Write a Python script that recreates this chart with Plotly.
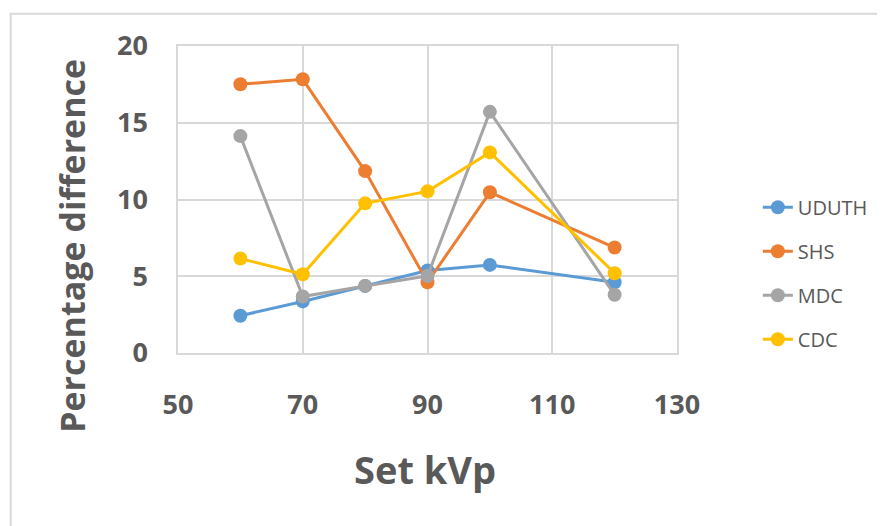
import plotly.graph_objects as go

kvp = [60, 70, 80, 90, 100, 120]
uduth = [2.43, 3.36, 4.37, 5.38, 5.74, 4.61]
shs = [17.51, 17.83, 11.85, 4.61, 10.47, 6.87]
mdc = [14.13, 3.68, 4.37, 5.02, 15.71, 3.79]
cdc = [6.15, 5.13, 9.75, 10.53, 13.07, 5.20]

series_names = ["UDUTH", "SHS", "MDC", "CDC"]
series_values = [uduth, shs, mdc, cdc]
colors = ["#5B9BD5", "#ED7D31", "#A5A5A5", "#FFC000"]

x_ticks = [50, 70, 90, 110, 130]
y_ticks = [0, 5, 10, 15, 20]

fig = go.Figure()
for name, vals, col in zip(series_names, series_values, colors):
    fig.add_trace(go.Scatter(
        x=kvp, y=vals, name=name, mode="lines+markers",
        line=dict(color=col, width=3),
        marker=dict(color=col, size=14),
        legendgroup=name,
    ))

TXT = "#595959"
GRID = "#D9D9D9"

# page body has an 8px margin; plot area target: x 178..679, y 45.7..353.3 (window px)
L, T = 178 - 8, 46 - 8
W, H = 877, 518
R = (8 + W) - 679
B = (8 + H) - 353.3

fig.update_layout(
    width=W, height=H,
    margin=dict(l=L, r=R, t=T, b=B),
    paper_bgcolor="white", plot_bgcolor="white",
    font=dict(family="Open Sans", color=TXT),
    showlegend=True,
    legend=dict(
        x=1.162, y=0.26, xanchor="left", yanchor="middle",
        font=dict(family="Open Sans", size=20, color=TXT),
        tracegroupgap=15, borderwidth=0,
        bgcolor="rgba(0,0,0,0)",
    ),
    xaxis=dict(
        range=[50, 130], tickvals=x_ticks, ticktext=[str(v) for v in x_ticks],
        showgrid=True, gridcolor=GRID, gridwidth=1.5,
        showline=True, linecolor=GRID, linewidth=1.5, mirror=True,
        zeroline=False, ticks="",
        tickfont=dict(family="Open Sans", size=27, color=TXT, weight="bold"),
        ticklabelstandoff=27,
    ),
    yaxis=dict(
        range=[0, 20], tickvals=y_ticks, ticktext=[str(v) for v in y_ticks],
        showgrid=True, gridcolor=GRID, gridwidth=1.5,
        showline=True, linecolor=GRID, linewidth=1.5, mirror=True,
        zeroline=False, ticks="",
        tickfont=dict(family="Open Sans", size=27, color=TXT, weight="bold"),
        ticklabelstandoff=23,
    ),
    annotations=[
        dict(text="<b>Set kVp</b>", xref="paper", yref="paper",
             x=(426 - 178) / 501, y=(353.3 - 470) / 307.6,
             xanchor="center", yanchor="middle", showarrow=False,
             font=dict(family="Open Sans", size=38, color=TXT)),
        dict(text="<b>Percentage difference</b>", xref="paper", yref="paper",
             x=(72 - 178) / 501, y=(353.3 - 245.5) / 307.6,
             xanchor="center", yanchor="middle", showarrow=False, textangle=-90,
             font=dict(family="Open Sans", size=34, color=TXT)),
    ],
    shapes=[
        dict(type="rect", xref="paper", yref="paper",
             x0=(10 - 178) / 501, x1=(900 - 178) / 501,
             y0=(353.3 - 540) / 307.6, y1=(353.3 - 13.5) / 307.6,
             line=dict(color=GRID, width=2), fillcolor="rgba(0,0,0,0)", layer="below"),
    ],
)

fig.write_html("out.html")
